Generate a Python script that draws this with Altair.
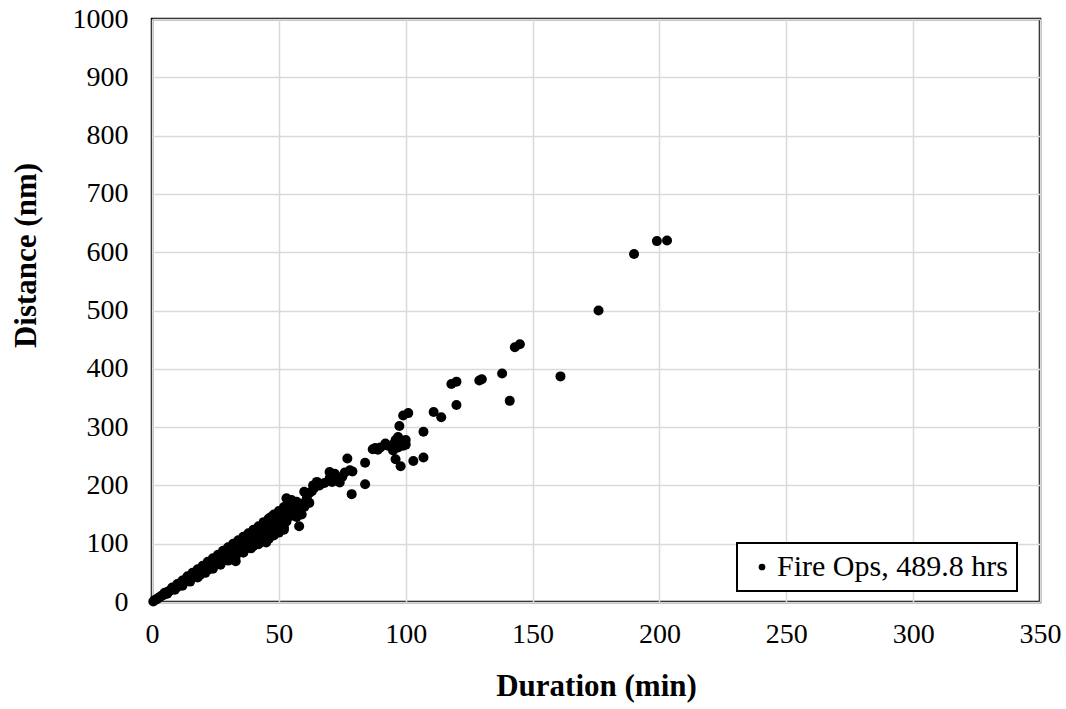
import altair as alt
import pandas as pd

# Duration (min) and Distance (nm)
duration = [
    0.5, 1, 1.5, 2, 2.5, 3, 3.5, 4, 4.5, 5, 5.5, 6, 6.5, 7, 7.5, 8, 8, 9, 9, 10, 10,
    11, 11, 12, 12, 13, 13, 14, 14, 15, 15, 16, 16, 17, 17, 18, 18, 19, 19, 20, 20,
    21, 21, 22, 22, 23, 23, 24, 24, 25, 25, 26, 26, 27, 27, 28, 28, 29, 29, 30, 30,
    31, 31, 32, 32, 33, 33, 34, 34, 35, 35, 36, 36, 37, 37, 38, 38, 39, 39, 40, 40,
    41, 41, 42, 42, 43, 43, 44, 44, 45, 45, 46, 46, 47, 47, 48, 48, 49, 49, 50, 50,
    51, 51, 52, 52, 53, 53, 54, 54, 55, 55, 56, 56, 57, 57, 58, 58, 59, 59,
    33, 45, 47, 53, 36, 40, 43, 50, 55, 52,
    5, 8, 10, 12, 14, 16, 18, 20, 22, 24, 26, 28, 30, 32, 34, 36, 38, 40, 42, 44,
    46, 48, 50, 52, 54,
    6, 9, 12, 15, 18, 21, 24, 27, 30, 33, 36, 39, 42, 44, 46, 48, 50, 52,
    60, 60, 61, 62, 62, 63, 63.5, 64, 65, 66, 68, 70, 70, 71, 72, 73, 74, 75, 76, 78,
    79, 77, 78.7, 84, 84, 87, 88, 89, 90, 92, 93, 95, 95, 96, 96, 97, 97, 97.5, 98,
    98, 99, 99, 100, 100, 101, 103, 107, 107, 111, 114, 118, 120, 120, 129, 130,
    138, 141, 143, 145, 161, 176, 190, 199, 203,
]
distance = [
    1, 3, 4, 5, 7, 8, 10, 11, 12, 14, 15, 17, 18, 19, 21, 22, 24, 25, 23, 28, 26,
    30, 32, 33, 30, 36, 38, 39, 36, 42, 40, 44, 47, 47, 43, 50, 53, 52, 47, 56, 52,
    58, 61, 60, 55, 64, 67, 66, 61, 70, 66, 72, 75, 74, 68, 78, 81, 80, 74, 84, 88,
    86, 78, 90, 94, 92, 82, 95, 100, 98, 88, 102, 107, 104, 94, 108, 113, 110, 98, 114, 119,
    116, 104, 120, 126, 122, 110, 128, 134, 126, 112, 135, 141, 132, 120, 138, 146, 140, 126, 142, 150,
    146, 132, 150, 158, 156, 138, 162, 170, 166, 148, 168, 158, 172, 146, 162, 130, 150, 168,
    70, 102, 146, 178, 85, 96, 108, 132, 175, 128,
    16, 25, 31, 37, 44, 50, 56, 62, 69, 75, 81, 88, 94, 100, 106, 112, 118, 124, 130, 137,
    143, 150, 156, 163, 168,
    14, 21, 28, 35, 42, 50, 57, 64, 71, 78, 85, 92, 99, 104, 108, 114, 119, 124,
    189, 163, 178, 170, 187, 190, 200, 196, 206, 200, 204, 223, 212, 206, 220, 210, 205, 215, 222, 226,
    224, 246, 185, 239, 202, 262, 264, 261, 265, 272, 268, 260, 270, 245, 278, 265, 283, 302, 233,
    275, 268, 320, 278, 270, 324, 242, 292, 248, 326, 317, 374, 378, 338, 380, 382,
    392, 345, 437, 442, 387, 500, 597, 619, 620,
]
series_name = ["Fire Ops, 489.8 hrs"] * len(duration)

x_ticks = [0, 50, 100, 150, 200, 250, 300, 350]
y_ticks = [0, 100, 200, 300, 400, 500, 600, 700, 800, 900, 1000]

df = pd.DataFrame({"Duration": duration, "Distance": distance, "Series": series_name})

FONT = "Liberation Serif"

chart = (
    alt.Chart(df)
    .mark_circle(size=100, opacity=1)
    .encode(
        x=alt.X(
            "Duration:Q",
            scale=alt.Scale(domain=[0, 350], nice=False, zero=True),
            axis=alt.Axis(
                values=x_ticks,
                format="d",
                title="Duration (min)",
                grid=True,
                ticks=False,
                domain=False,
                labelFlush=False,
                labelPadding=18,
                titlePadding=23,
            ),
        ),
        y=alt.Y(
            "Distance:Q",
            scale=alt.Scale(domain=[0, 1000], nice=False),
            axis=alt.Axis(
                values=y_ticks,
                format="d",
                title="Distance (nm)",
                grid=True,
                ticks=False,
                domain=False,
                labelFlush=False,
                labelPadding=24,
                titleX=-117,
                titleY=236,
                titleAlign="center",
                titleBaseline="alphabetic",
            ),
        ),
        color=alt.Color(
            "Series:N",
            scale=alt.Scale(range=["black"]),
            legend=alt.Legend(
                title=None,
                orient="none",
                legendX=585,
                legendY=524,
                strokeColor="black",
                fillColor="white",
                padding=9,
                labelFont=FONT,
                labelFontSize=30,
                labelColor="black",
                labelLimit=500,
                symbolType="circle",
                symbolSize=45,
                symbolStrokeWidth=0,
                symbolOffset=1,
                labelOffset=0,
            ),
        ),
    )
    .properties(
        width=888,
        height=583,
        autosize=alt.AutoSizeParams(type="none"),
        padding={"left": 152, "top": 19, "right": 26, "bottom": 107},
        background="white",
    )
    .configure_view(stroke="black", strokeWidth=2.5)
    .configure_legend(strokeWidth=2)
    .configure_axis(
        labelFont=FONT,
        labelFontSize=28,
        labelColor="black",
        titleFont=FONT,
        titleFontSize=31,
        titleFontWeight="bold",
        titleColor="black",
        gridColor="#d9d9d9",
        gridWidth=1.5,
        gridOpacity=1,
    )
)

chart.save("out.html", embed_options={"renderer": "svg", "actions": False})
